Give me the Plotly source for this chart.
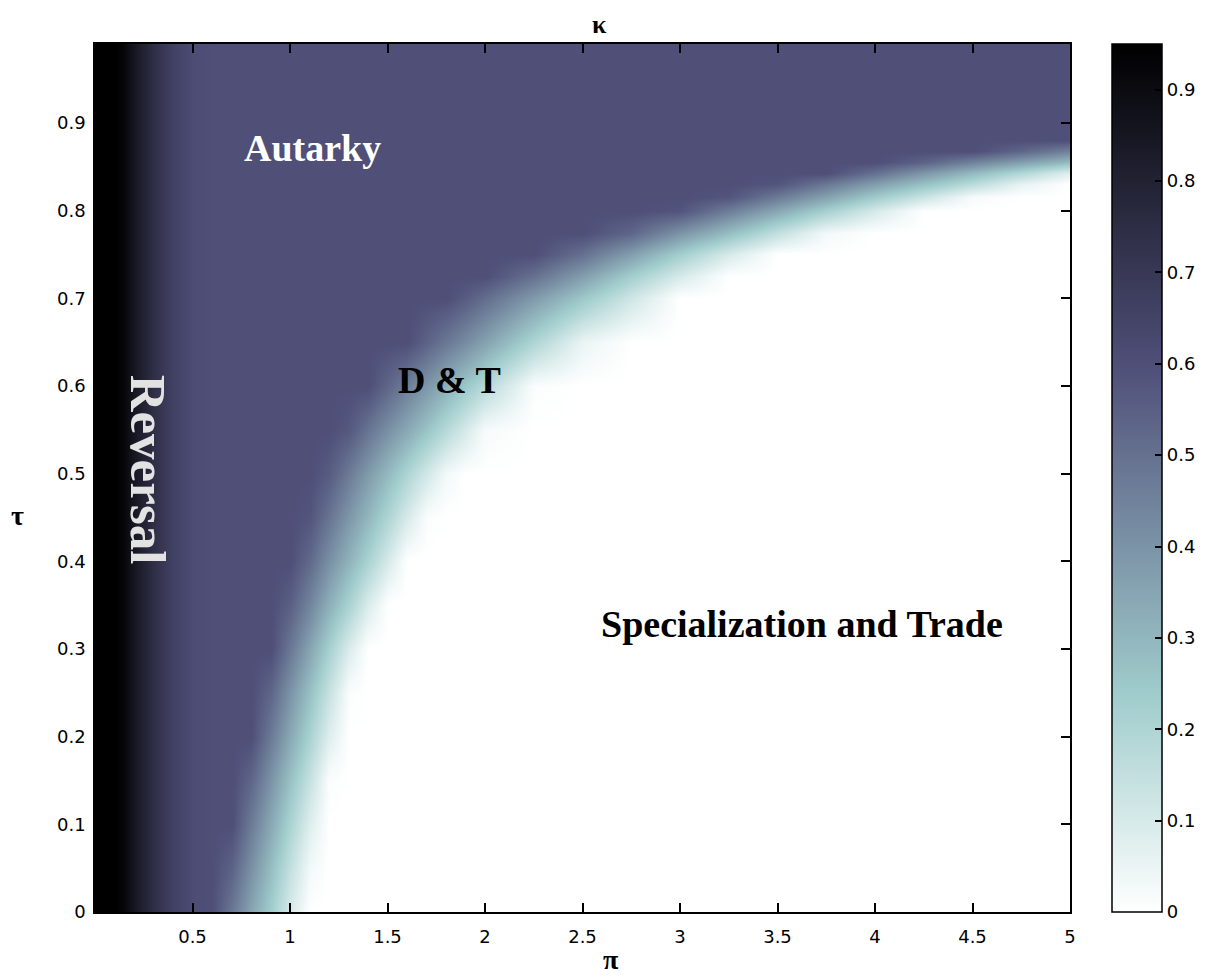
import plotly.graph_objects as go

# ---- grid ----
pi_cols = [0, 0.1, 0.15, 0.2, 0.3, 0.4, 0.5, 0.6, 0.7, 0.8, 0.9, 1.0, 1.1, 1.2, 1.3, 1.4,
           1.5, 1.6, 1.7, 1.8, 1.9, 2.0, 2.25, 2.5, 2.75, 3.0, 3.25, 3.5, 3.75, 4.0,
           4.25, 4.5, 4.75, 5.0]
tau_rows = [0, 0.05, 0.1, 0.15, 0.2, 0.25, 0.3, 0.35, 0.4, 0.45, 0.5, 0.55, 0.6, 0.65,
            0.7, 0.725, 0.75, 0.775, 0.8, 0.815, 0.83, 0.8425, 0.855, 0.8675, 0.88, 0.99]

# kappa on the left strip (pi = 0 .. 0.5), same for every tau
k_left = [0.95, 0.95, 0.92, 0.85, 0.74, 0.66, 0.61]

# kappa per tau row for pi = 0.6 .. 5.0
k_000 = k_left + [0.6, 0.48, 0.35, 0.23, 0.10, 0, 0, 0, 0, 0, 0, 0, 0, 0, 0, 0, 0, 0, 0, 0, 0, 0, 0, 0, 0, 0, 0]
k_005 = k_left + [0.6, 0.54, 0.41, 0.28, 0.15, 0.03, 0, 0, 0, 0, 0, 0, 0, 0, 0, 0, 0, 0, 0, 0, 0, 0, 0, 0, 0, 0, 0]
k_010 = k_left + [0.6, 0.6, 0.47, 0.34, 0.21, 0.08, 0, 0, 0, 0, 0, 0, 0, 0, 0, 0, 0, 0, 0, 0, 0, 0, 0, 0, 0, 0, 0]
k_015 = k_left + [0.6, 0.6, 0.53, 0.40, 0.27, 0.14, 0.01, 0, 0, 0, 0, 0, 0, 0, 0, 0, 0, 0, 0, 0, 0, 0, 0, 0, 0, 0, 0]
k_020 = k_left + [0.6, 0.6, 0.6, 0.47, 0.34, 0.21, 0.08, 0, 0, 0, 0, 0, 0, 0, 0, 0, 0, 0, 0, 0, 0, 0, 0, 0, 0, 0, 0]
k_025 = k_left + [0.6, 0.6, 0.6, 0.53, 0.40, 0.27, 0.14, 0.01, 0, 0, 0, 0, 0, 0, 0, 0, 0, 0, 0, 0, 0, 0, 0, 0, 0, 0, 0]
k_030 = k_left + [0.6, 0.6, 0.6, 0.6, 0.48, 0.35, 0.22, 0.09, 0, 0, 0, 0, 0, 0, 0, 0, 0, 0, 0, 0, 0, 0, 0, 0, 0, 0, 0]
k_035 = k_left + [0.6, 0.6, 0.6, 0.6, 0.55, 0.44, 0.32, 0.21, 0.09, 0, 0, 0, 0, 0, 0, 0, 0, 0, 0, 0, 0, 0, 0, 0, 0, 0, 0]
k_040 = k_left + [0.6, 0.6, 0.6, 0.6, 0.6, 0.52, 0.41, 0.31, 0.21, 0.10, 0, 0, 0, 0, 0, 0, 0, 0, 0, 0, 0, 0, 0, 0, 0, 0, 0]
k_045 = k_left + [0.6, 0.6, 0.6, 0.6, 0.6, 0.58, 0.49, 0.39, 0.30, 0.20, 0.10, 0.01, 0, 0, 0, 0, 0, 0, 0, 0, 0, 0, 0, 0, 0, 0, 0]
k_050 = k_left + [0.6, 0.6, 0.6, 0.6, 0.6, 0.6, 0.56, 0.47, 0.38, 0.29, 0.20, 0.11, 0.03, 0, 0, 0, 0, 0, 0, 0, 0, 0, 0, 0, 0, 0, 0]
k_055 = k_left + [0.6, 0.6, 0.6, 0.6, 0.6, 0.6, 0.6, 0.57, 0.49, 0.41, 0.34, 0.26, 0.18, 0.10, 0.02, 0, 0, 0, 0, 0, 0, 0, 0, 0, 0, 0, 0]
k_060 = k_left + [0.6, 0.6, 0.6, 0.6, 0.6, 0.6, 0.6, 0.6, 0.6, 0.53, 0.46, 0.39, 0.32, 0.25, 0.18, 0.01, 0, 0, 0, 0, 0, 0, 0, 0, 0, 0, 0]
k_065 = k_left + [0.6, 0.6, 0.6, 0.6, 0.6, 0.6, 0.6, 0.6, 0.6, 0.6, 0.6, 0.54, 0.48, 0.42, 0.36, 0.20, 0.05, 0, 0, 0, 0, 0, 0, 0, 0, 0, 0]
k_070 = k_left + [0.6, 0.6, 0.6, 0.6, 0.6, 0.6, 0.6, 0.6, 0.6, 0.6, 0.6, 0.6, 0.6, 0.56, 0.51, 0.38, 0.25, 0.12, 0, 0, 0, 0, 0, 0, 0, 0, 0]
k_0725 = k_left + [0.6, 0.6, 0.6, 0.6, 0.6, 0.6, 0.6, 0.6, 0.6, 0.6, 0.6, 0.6, 0.6, 0.6, 0.6, 0.50, 0.37, 0.23, 0.10, 0, 0, 0, 0, 0, 0, 0, 0]
k_075 = k_left + [0.6, 0.6, 0.6, 0.6, 0.6, 0.6, 0.6, 0.6, 0.6, 0.6, 0.6, 0.6, 0.6, 0.6, 0.6, 0.6, 0.50, 0.37, 0.23, 0.10, 0, 0, 0, 0, 0, 0, 0]
k_0775 = k_left + [0.6, 0.6, 0.6, 0.6, 0.6, 0.6, 0.6, 0.6, 0.6, 0.6, 0.6, 0.6, 0.6, 0.6, 0.6, 0.6, 0.6, 0.53, 0.40, 0.28, 0.15, 0.03, 0, 0, 0, 0, 0]
k_080 = k_left + [0.6, 0.6, 0.6, 0.6, 0.6, 0.6, 0.6, 0.6, 0.6, 0.6, 0.6, 0.6, 0.6, 0.6, 0.6, 0.6, 0.6, 0.6, 0.58, 0.46, 0.34, 0.22, 0.10, 0, 0, 0, 0]
k_0815 = k_left + [0.6, 0.6, 0.6, 0.6, 0.6, 0.6, 0.6, 0.6, 0.6, 0.6, 0.6, 0.6, 0.6, 0.6, 0.6, 0.6, 0.6, 0.6, 0.6, 0.58, 0.47, 0.36, 0.24, 0.13, 0.02, 0, 0]
k_083 = k_left + [0.6, 0.6, 0.6, 0.6, 0.6, 0.6, 0.6, 0.6, 0.6, 0.6, 0.6, 0.6, 0.6, 0.6, 0.6, 0.6, 0.6, 0.6, 0.6, 0.6, 0.58, 0.48, 0.37, 0.27, 0.17, 0.06, 0]
k_0843 = k_left + [0.6, 0.6, 0.6, 0.6, 0.6, 0.6, 0.6, 0.6, 0.6, 0.6, 0.6, 0.6, 0.6, 0.6, 0.6, 0.6, 0.6, 0.6, 0.6, 0.6, 0.6, 0.6, 0.50, 0.39, 0.29, 0.19, 0.08]
k_0855 = k_left + [0.6, 0.6, 0.6, 0.6, 0.6, 0.6, 0.6, 0.6, 0.6, 0.6, 0.6, 0.6, 0.6, 0.6, 0.6, 0.6, 0.6, 0.6, 0.6, 0.6, 0.6, 0.6, 0.6, 0.54, 0.45, 0.37, 0.29]
k_0868 = k_left + [0.6, 0.6, 0.6, 0.6, 0.6, 0.6, 0.6, 0.6, 0.6, 0.6, 0.6, 0.6, 0.6, 0.6, 0.6, 0.6, 0.6, 0.6, 0.6, 0.6, 0.6, 0.6, 0.6, 0.6, 0.6, 0.53, 0.45]
k_088 = k_left + [0.6, 0.6, 0.6, 0.6, 0.6, 0.6, 0.6, 0.6, 0.6, 0.6, 0.6, 0.6, 0.6, 0.6, 0.6, 0.6, 0.6, 0.6, 0.6, 0.6, 0.6, 0.6, 0.6, 0.6, 0.6, 0.6, 0.6]
k_099 = k_left + [0.6, 0.6, 0.6, 0.6, 0.6, 0.6, 0.6, 0.6, 0.6, 0.6, 0.6, 0.6, 0.6, 0.6, 0.6, 0.6, 0.6, 0.6, 0.6, 0.6, 0.6, 0.6, 0.6, 0.6, 0.6, 0.6, 0.6]

kappa = [k_000, k_005, k_010, k_015, k_020, k_025, k_030, k_035, k_040, k_045, k_050,
         k_055, k_060, k_065, k_070, k_0725, k_075, k_0775, k_080, k_0815, k_083,
         k_0843, k_0855, k_0868, k_088, k_099]
for row in kappa:
    assert len(row) == len(pi_cols)

x_ticks = [0.5, 1, 1.5, 2, 2.5, 3, 3.5, 4, 4.5, 5]
x_labels = ["0.5", "1", "1.5", "2", "2.5", "3", "3.5", "4", "4.5", "5"]
y_ticks = [0, 0.1, 0.2, 0.3, 0.4, 0.5, 0.6, 0.7, 0.8, 0.9]
y_labels = ["0", "0.1", "0.2", "0.3", "0.4", "0.5", "0.6", "0.7", "0.8", "0.9"]
cb_ticks = [0, 0.1, 0.2, 0.3, 0.4, 0.5, 0.6, 0.7, 0.8, 0.9]
cb_labels = ["0", "0.1", "0.2", "0.3", "0.4", "0.5", "0.6", "0.7", "0.8", "0.9"]

# reversed MATLAB "bone"-like colormap
bone_r = [
    [0.0, "rgb(255,255,255)"],
    [0.25, "rgb(160,204,204)"],
    [0.625, "rgb(80,80,122)"],
    [1.0, "rgb(0,0,0)"],
]

tick_font = dict(family="DejaVu Sans", size=18, color="black")

fig = go.Figure(
    go.Heatmap(
        x=pi_cols, y=tau_rows, z=kappa,
        zsmooth="best", zmin=0, zmax=0.95,
        colorscale=bone_r,
        colorbar=dict(
            x=1.043, xanchor="left", xpad=0,
            y=0.5, yanchor="middle", ypad=0,
            len=1, lenmode="fraction",
            thickness=50, thicknessmode="pixels",
            outlinewidth=1.5, outlinecolor="black",
            tickmode="array", tickvals=cb_ticks, ticktext=cb_labels,
            ticks="inside", ticklen=7, tickcolor="black", tickwidth=1.5,
            tickfont=tick_font,
        ),
    )
)

axis_common = dict(
    showline=True, linecolor="black", linewidth=1.5, mirror="ticks",
    ticks="inside", ticklen=9, tickwidth=1.5, tickcolor="black",
    showgrid=False, zeroline=False, tickfont=tick_font,
)

# the page body adds an 8px offset, so the figure is 8px smaller on each side
fig.update_layout(
    width=1210, height=970,
    margin=dict(l=87, r=148, t=36, b=66, autoexpand=False),
    paper_bgcolor="white", plot_bgcolor="white",
    xaxis=dict(range=[0, 5], tickmode="array", tickvals=x_ticks, ticktext=x_labels,
               ticklabelstandoff=8, **axis_common),
    yaxis=dict(range=[0, 0.99], tickmode="array", tickvals=y_ticks, ticktext=y_labels,
               ticklabelstandoff=4, **axis_common),
    showlegend=False,
)

serif = "Liberation Serif"
annos = [
    dict(text="<b>Autarky</b>", x=1.115, y=0.871, color="white", size=38, angle=0),
    dict(text="<b>D &amp; T</b>", x=1.818, y=0.607, color="black", size=38, angle=0),
    dict(text="<b>Specialization and Trade</b>", x=3.628, y=0.328, color="black", size=38, angle=0),
    dict(text="<b>Reversal</b>", x=0.269, y=0.504, color="#e2e2e2", size=51, angle=90),
]
for a in annos:
    fig.add_annotation(text=a["text"], x=a["x"], y=a["y"], xref="x", yref="y",
                       showarrow=False, textangle=a["angle"],
                       font=dict(family=serif, size=a["size"], color=a["color"]))

axis_titles = [
    dict(text="<b>π</b>", x=0.529, y=-0.0545, size=28),
    dict(text="<b>κ</b>", x=0.517, y=1.023, size=26),
    dict(text="<b>τ</b>", x=-0.0795, y=0.457, size=28),
]
for a in axis_titles:
    fig.add_annotation(text=a["text"], x=a["x"], y=a["y"], xref="paper", yref="paper",
                       showarrow=False, xanchor="center", yanchor="middle", borderpad=0,
                       font=dict(family=serif, size=a["size"], color="black"))

fig.write_html("out.html")
